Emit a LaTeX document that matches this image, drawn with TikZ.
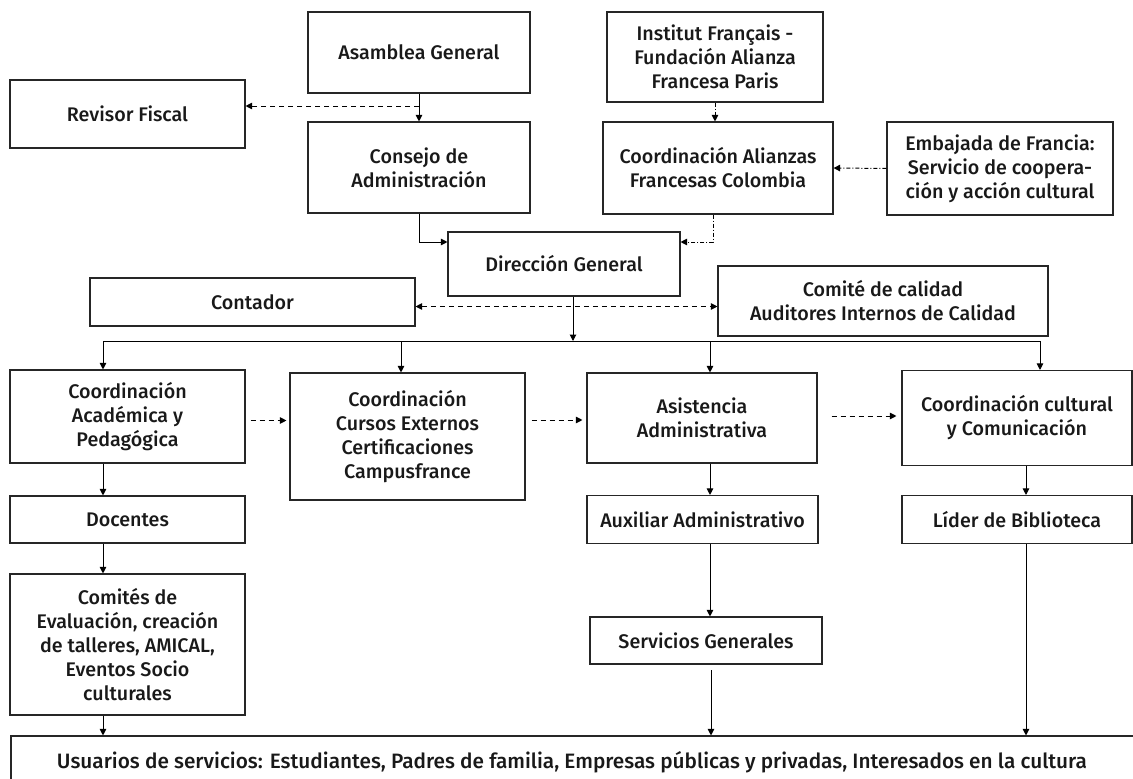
\documentclass[tikz,border=0pt]{standalone}
\usepackage{fontspec}
\setmainfont{Fira Sans}[UprightFont=* Medium]
\usetikzlibrary{arrows.meta,calc}

\begin{document}
\begin{tikzpicture}[x=1pt,y=-1pt]
	\tikzstyle{every node}+=[inner sep=2pt]
	\tikzstyle{txt}=[font=\fontsize{19.7}{24}\selectfont, text=black!90]
	\tikzstyle{box}=[txt, draw=black!85, line width=1.1pt, align=center]
	\tikzstyle{arr}=[-{Triangle[length=6.5pt,width=6.5pt]}, line width=1pt]
	\tikzstyle{dsh}=[dash pattern=on 5.5pt off 3.5pt]
	\tikzstyle{dd}=[dash pattern=on 4pt off 2pt on 1pt off 2pt]
	\useasboundingbox (0,0) rectangle (1133,779);
	\node [box, minimum width=222pt, minimum height=81pt] (asam) at (419,52.5) {Asamblea General};
	\node [box, minimum width=235pt, minimum height=68pt] (rev) at (127.5,114) {Revisor Fiscal};
	\node [box, minimum width=222pt, minimum height=91pt] (cons) at (419,167.5) {Consejo de\\Administración};
	\node [box, minimum width=216pt, minimum height=90pt] (inst) at (715,57) {Institut Français -\\Fundación Alianza\\Francesa Paris};
	\node [box, minimum width=230pt, minimum height=92pt] (alz) at (718,168) {Coordinación Alianzas\\Francesas Colombia};
	\node [box, minimum width=226pt, minimum height=93pt] (emb) at (1000,168.5) {Embajada de Francia:\\Servicio de coopera-\\ción y acción cultural};
	\node [box, minimum width=232pt, minimum height=64pt] (dir) at (564,264) {Dirección General};
	\node [box, minimum width=325pt, minimum height=48pt] (cont) at (252.5,302) {Contador};
	\node [box, minimum width=330pt, minimum height=70pt] (cal) at (883,301) {Comité de calidad\\Auditores Internos de Calidad};
	\node [box, minimum width=235pt, minimum height=93pt] (acad) at (127.5,416.5) {Coordinación\\Académica y\\Pedagógica};
	\node [box, minimum width=235pt, minimum height=127pt] (curs) at (407.5,436.5) {Coordinación\\Cursos Externos\\Certificaciones\\Campusfrance};
	\node [box, minimum width=230pt, minimum height=90pt] (asis) at (702,418) {Asistencia\\Administrativa};
	\node [box, minimum width=230pt, minimum height=95pt] (cult) at (1017,418) {Coordinación cultural\\y Comunicación};
	\node [box, minimum width=235pt, minimum height=47pt] (doc) at (127.5,519.5) {Docentes};
	\node [box, minimum width=231pt, minimum height=48pt] (aux) at (702.5,519.5) {Auxiliar Administrativo};
	\node [box, minimum width=230pt, minimum height=48pt] (lid) at (1017,519.5) {Líder de Biblioteca};
	\node [box, minimum width=235pt, minimum height=141pt] (comi) at (127.5,644.5) {Comités de\\Evaluación, creación\\de talleres, AMICAL,\\Eventos Socio\\culturales};
	\node [box, minimum width=232pt, minimum height=47pt] (serv) at (706,640.5) {Servicios Generales};
	\node [box, minimum width=1140pt, minimum height=60pt] (usu) at (581,766) {};
	\node [txt, font=\fontsize{20.8}{24}\selectfont] (usut) at (572,762) {Usuarios de servicios: Estudiantes, Padres de familia, Empresas públicas y privadas, Interesados en la cultura};
	\coordinate (a1) at (419,106);
	\coordinate (b0) at (573,341);
	\coordinate (b1) at (103,341);
	\coordinate (b2) at (401,341);
	\coordinate (b3) at (710,341);
	\coordinate (b4) at (1040,341);
	\coordinate (b5) at (1026,341);
	\coordinate (s1) at (711,670);
	\draw [arr] (asam) -- (cons);
	\draw [arr, dsh] (a1) -- (a1 -| rev.east);
	\draw [arr] (cons.south) |- ([yshift=22pt]dir.west);
	\draw [arr, dd] (inst.south) -- (inst.south |- alz.north);
	\draw [arr, dd] (emb.west) -- (alz.east);
	\draw [arr, dd] ([xshift=-5pt]alz.south) |- ([yshift=22pt]dir.east);
	\draw [arr] (dir.south -| b0) -- (b0);
	\draw [dsh, line width=1pt, {Triangle[length=6.5pt,width=6.5pt]}-{Triangle[length=6.5pt,width=6.5pt]}] ([yshift=-4.5pt]cont.east) -- ([yshift=-4.5pt]cont.east -| cal.west);
	\draw [line width=1pt] (b1) -- (b4);
	\draw [arr] (b1) -- (b1 |- acad.north);
	\draw [arr] (b2) -- (b2 |- curs.north);
	\draw [arr] (b3) -- (b3 |- asis.north);
	\draw [arr] (b4) -- (b4 |- cult.north);
	\draw [arr, dsh] ($(acad.east)+(5,4)$) -- ($(acad.east -| curs.west)+(-3,4)$);
	\draw [arr, dsh] ($(curs.east |- asis.west)+(6,2)$) -- ($(asis.west)+(-4,2)$);
	\draw [arr, dsh] ($(asis.east)+(14,-2)$) -- ($(cult.west)+(-5,-2)$);
	\draw [arr] (acad.south -| b1) -- (doc.north -| b1);
	\draw [arr] (doc.south -| b1) -- (comi.north -| b1);
	\draw [arr] (comi.south -| b1) -- (usu.north -| b1);
	\draw [arr] (asis.south -| b3) -- (aux.north -| b3);
	\draw [arr] (aux.south -| b3) -- (serv.north -| b3);
	\draw [arr] (s1) -- (s1 |- usu.north);
	\draw [arr] (cult.south -| b5) -- (lid.north -| b5);
	\draw [arr] (lid.south -| b5) -- (usu.north -| b5);
\end{tikzpicture}
\end{document}
